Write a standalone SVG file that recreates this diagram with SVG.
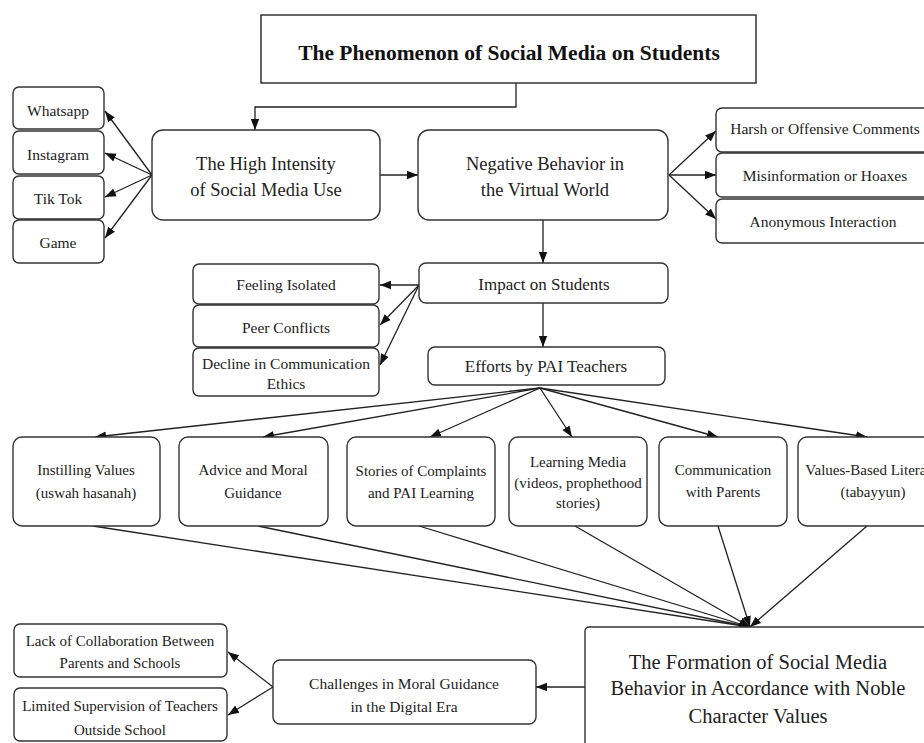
<svg xmlns="http://www.w3.org/2000/svg" width="924" height="743" viewBox="0 0 924 743">
<style>
.bx{fill:#fff;stroke:#333;stroke-width:1.4}
.t{font-family:"Liberation Serif","Times New Roman",serif;fill:#222;text-anchor:middle}
.s15{font-size:15px}
.s155{font-size:15.5px}
.s17{font-size:17px}
.s185{font-size:18.5px}
.s205{font-size:20.5px}
.ttl{font-size:21.5px;font-weight:bold;fill:#111}
.c{fill:none;stroke:#222;stroke-width:1.3;marker-end:url(#ah)}
.cn{fill:none;stroke:#222;stroke-width:1.3}
</style>
<defs>
<marker id="ah" markerUnits="userSpaceOnUse" markerWidth="12" markerHeight="10" viewBox="0 0 12 10" refX="11" refY="5" orient="auto">
<path d="M0,0.8 L11,5 L0,9.2 Z" fill="#111"/>
</marker>
</defs>
<rect width="924" height="743" fill="#fff"/>

<g id="connectors">
<polyline class="c" points="516,83 516,107 255,107 255,130"/>
<line class="c" x1="152" y1="175" x2="105" y2="111"/>
<line class="c" x1="152" y1="175" x2="105" y2="153"/>
<line class="c" x1="152" y1="175" x2="105" y2="197"/>
<line class="c" x1="152" y1="175" x2="105" y2="238"/>
<line class="c" x1="380" y1="175" x2="418" y2="175"/>
<line class="c" x1="669" y1="175" x2="716" y2="131"/>
<line class="c" x1="669" y1="175" x2="716" y2="175"/>
<line class="c" x1="669" y1="175" x2="716" y2="219"/>
<line class="c" x1="543" y1="220" x2="543" y2="263"/>
<line class="c" x1="419" y1="285" x2="380" y2="285"/>
<line class="c" x1="419" y1="285" x2="380" y2="325"/>
<line class="c" x1="419" y1="285" x2="380" y2="365"/>
<line class="c" x1="543" y1="303" x2="543" y2="347"/>
<line class="c" x1="540" y1="388" x2="95" y2="437"/>
<line class="c" x1="540" y1="388" x2="263" y2="437"/>
<line class="c" x1="540" y1="388" x2="430" y2="437"/>
<line class="c" x1="540" y1="388" x2="572" y2="437"/>
<line class="c" x1="540" y1="388" x2="718" y2="437"/>
<line class="c" x1="540" y1="388" x2="867" y2="437"/>
<line class="c" x1="93" y1="526" x2="750" y2="627"/>
<line class="c" x1="258" y1="526" x2="750" y2="627"/>
<line class="c" x1="419" y1="526" x2="750" y2="627"/>
<line class="c" x1="575" y1="526" x2="750" y2="627"/>
<line class="c" x1="718" y1="526" x2="750" y2="627"/>
<line class="c" x1="867" y1="526" x2="750" y2="627"/>
<line class="c" x1="585" y1="687" x2="536" y2="687"/>
<line class="c" x1="273" y1="687" x2="228" y2="652"/>
<line class="c" x1="273" y1="687" x2="228" y2="715"/>
</g>

<g id="title">
<rect x="261" y="15" width="495" height="68" fill="#fff" stroke="#333" stroke-width="1.5"/>
<text class="t ttl" x="509" y="59.5">The Phenomenon of Social Media on Students</text>
</g>

<g id="whatsapp"><rect class="bx" x="13" y="87" width="91" height="42" rx="6"/><text class="t s155" x="58" y="115.5">Whatsapp</text></g>
<g id="instagram"><rect class="bx" x="13" y="131" width="91" height="43" rx="6"/><text class="t s155" x="58" y="159.5">Instagram</text></g>
<g id="tiktok"><rect class="bx" x="13" y="176" width="91" height="43" rx="6"/><text class="t s155" x="58" y="203.5">Tik Tok</text></g>
<g id="game"><rect class="bx" x="13" y="220" width="91" height="43" rx="6"/><text class="t s155" x="58" y="247.5">Game</text></g>

<g id="high-intensity"><rect class="bx" x="152" y="130" width="228" height="90" rx="11"/>
<text class="t s185" x="266" y="169.5">The High Intensity</text>
<text class="t s185" x="266" y="195.5">of Social Media Use</text></g>

<g id="negative"><rect class="bx" x="418" y="130" width="250" height="90" rx="11"/>
<text class="t s185" x="545" y="169.5">Negative Behavior in</text>
<text class="t s185" x="545" y="195.5">the Virtual World</text></g>

<g id="harsh"><rect class="bx" x="716" y="108" width="218" height="44" rx="6"/><text class="t s155" x="825" y="133.5">Harsh or Offensive Comments</text></g>
<g id="misinfo"><rect class="bx" x="716" y="153" width="218" height="44" rx="6"/><text class="t s155" x="825" y="180.5">Misinformation or Hoaxes</text></g>
<g id="anonymous"><rect class="bx" x="716" y="199" width="218" height="44" rx="6"/><text class="t s155" x="823" y="226.5">Anonymous Interaction</text></g>

<g id="impact"><rect class="bx" x="419" y="263" width="249" height="40" rx="7"/><text class="t s17" x="544" y="290">Impact on Students</text></g>
<g id="efforts"><rect class="bx" x="428" y="347" width="237" height="38" rx="7"/><text class="t s17" x="546" y="372">Efforts by PAI Teachers</text></g>

<g id="feeling"><rect class="bx" x="193" y="264" width="186" height="40" rx="6"/><text class="t s155" x="286" y="289.5">Feeling Isolated</text></g>
<g id="peer"><rect class="bx" x="193" y="305" width="186" height="42" rx="6"/><text class="t s155" x="286" y="332.5">Peer Conflicts</text></g>
<g id="decline"><rect class="bx" x="193" y="348" width="186" height="48" rx="6"/>
<text class="t s155" x="286" y="368.5">Decline in Communication</text>
<text class="t s155" x="286" y="388.5">Ethics</text></g>

<g id="instilling"><rect class="bx" x="13" y="437" width="147" height="89" rx="9"/>
<text class="t s15" x="86" y="475">Instilling Values</text>
<text class="t s15" x="86" y="498">(uswah hasanah)</text></g>
<g id="advice"><rect class="bx" x="179" y="437" width="149" height="89" rx="9"/>
<text class="t s15" x="253" y="475">Advice and Moral</text>
<text class="t s15" x="253" y="498">Guidance</text></g>
<g id="stories"><rect class="bx" x="347" y="437" width="148" height="89" rx="9"/>
<text class="t s15" x="421" y="476">Stories of Complaints</text>
<text class="t s15" x="421" y="498">and PAI Learning</text></g>
<g id="learning"><rect class="bx" x="509" y="437" width="138" height="89" rx="9"/>
<text class="t s15" x="578" y="467">Learning Media</text>
<text class="t s15" x="578" y="488">(videos, prophethood</text>
<text class="t s15" x="578" y="508">stories)</text></g>
<g id="communication"><rect class="bx" x="659" y="437" width="128" height="89" rx="9"/>
<text class="t s15" x="723" y="475">Communication</text>
<text class="t s15" x="723" y="497">with Parents</text></g>
<g id="values"><rect class="bx" x="798" y="437" width="150" height="89" rx="9"/>
<text class="t s15" x="873" y="475">Values-Based Literacy</text>
<text class="t s15" x="873" y="497">(tabayyun)</text></g>

<g id="formation"><rect class="bx" x="585" y="627" width="350" height="130" rx="4"/>
<text class="t s205" x="758" y="669">The Formation of Social Media</text>
<text class="t s205" x="758" y="695">Behavior in Accordance with Noble</text>
<text class="t s205" x="758" y="723">Character Values</text></g>

<g id="challenges"><rect class="bx" x="273" y="660" width="263" height="64" rx="7"/>
<text class="t s155" x="404" y="688.5">Challenges in Moral Guidance</text>
<text class="t s155" x="404" y="711.5">in the Digital Era</text></g>

<g id="lack"><rect class="bx" x="14" y="624" width="213" height="53" rx="6"/>
<text class="t s15" x="120" y="646">Lack of Collaboration Between</text>
<text class="t s15" x="120" y="668">Parents and Schools</text></g>
<g id="limited"><rect class="bx" x="14" y="688" width="213" height="53" rx="6"/>
<text class="t s15" x="120" y="711">Limited Supervision of Teachers</text>
<text class="t s15" x="120" y="735">Outside School</text></g>
</svg>
